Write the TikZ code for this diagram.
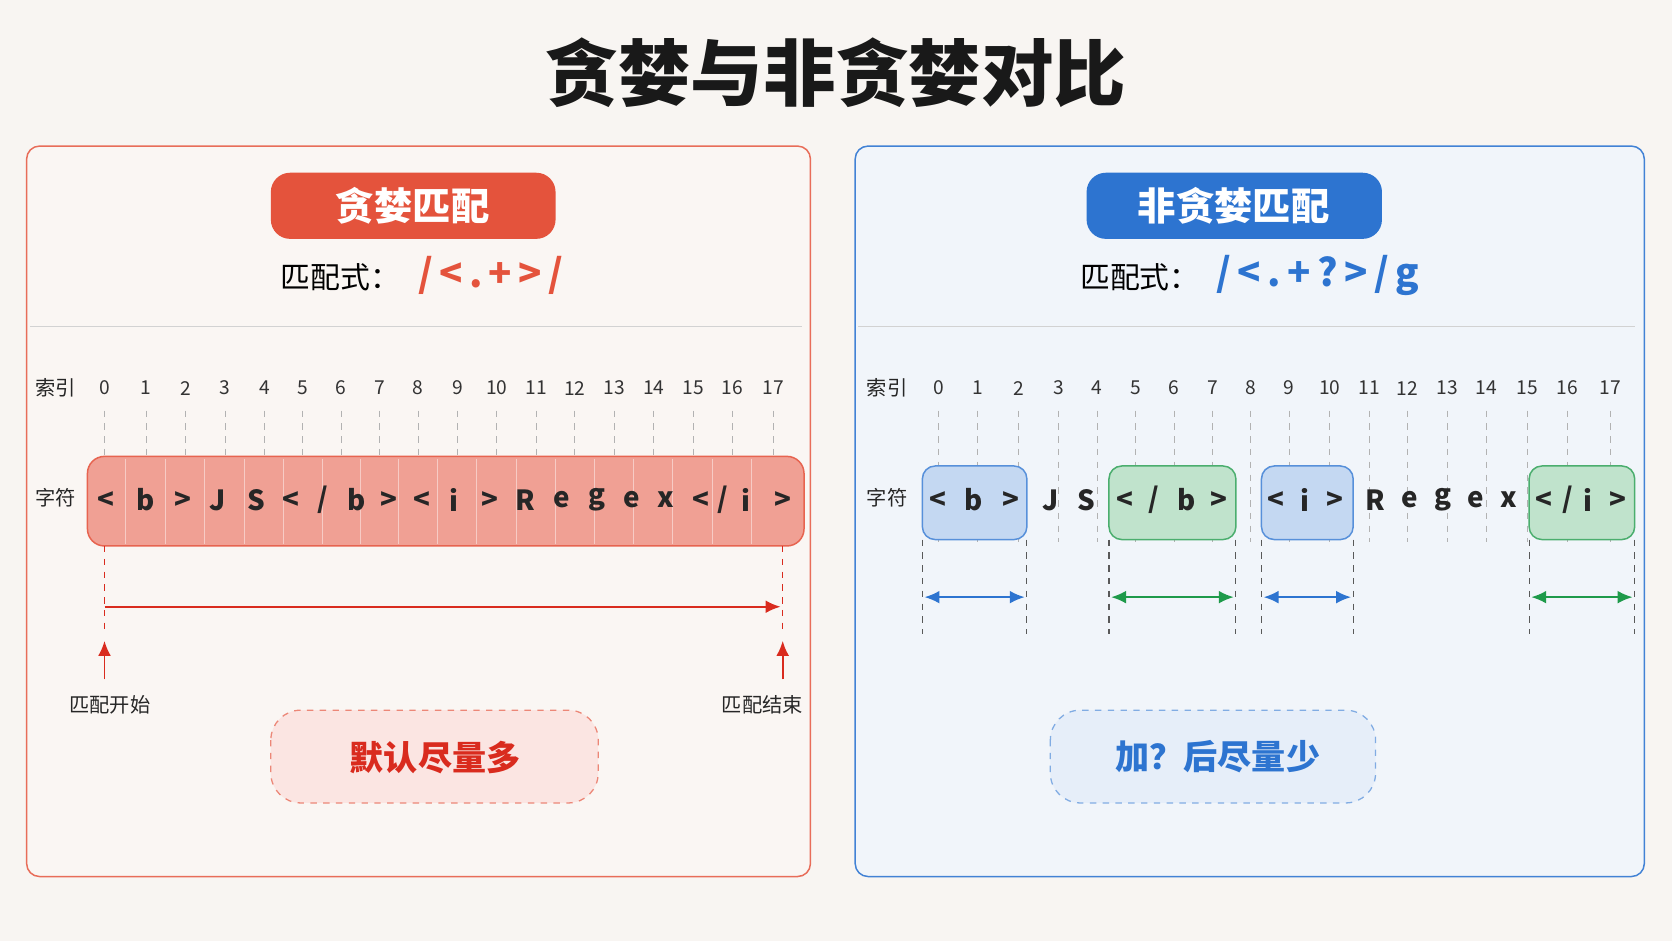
\documentclass[tikz,border=0pt]{standalone}
\usepackage{fontspec}
\setmainfont{Noto Sans CJK SC}
\usetikzlibrary{arrows.meta}
\definecolor{bgc}{HTML}{F8F5F2}
\definecolor{redc}{HTML}{E4533C}
\definecolor{redd}{HTML}{D92B1E}
\definecolor{bluec}{HTML}{2D74D0}
\definecolor{greenc}{HTML}{1E9A4A}
\definecolor{lpan}{HTML}{FAF6F3}
\definecolor{rpan}{HTML}{F1F5FA}
\begin{document}
\begin{tikzpicture}[x=0.5pt,y=-0.5pt,
  idx/.style={font=\fontsize{9}{10}\selectfont,text=black!80},
  ch/.style={font=\fontsize{13}{14}\selectfont\bfseries,text=black!85},
  lab/.style={font=\fontsize{9.5}{11}\selectfont,text=black!85},
  pill/.style={rounded corners=9pt,text=white,font=\fontsize{18}{20}\selectfont\bfseries},
  guide/.style={gray!60,dashed,line width=0.4pt}]
\useasboundingbox[fill=bgc] (0,0) rectangle (1568,882);
\node[font=\fontsize{34}{36}\selectfont\bfseries,text=black!90] (title) at (784,68) {贪婪与非贪婪对比};
% ---------- left panel
\draw[redc!85,fill=lpan,line width=0.7pt,rounded corners=6pt] (25,137) rectangle (760,822);
\fill[redc,rounded corners=9pt] (254,162) rectangle (521,224);
\node[pill] (lh) at (387,193) {贪婪匹配};
\node[anchor=west,font=\fontsize{14}{16}\selectfont] (lf) at (256,260) {匹配式：};
\node[anchor=west,font=\fontsize{18}{18}\selectfont\bfseries,text=redc] (lr) at (385,258) {/\,<\,.\,+\,>\,/};
\draw[gray!35] (28,306) -- (752,306);
\node[lab] (lidx) at (52,364) {索引};
\node[lab] (lchr) at (52,467) {字符};
\foreach \i/\x in {0/98,1/137,2/174,3/211,4/248,5/284,6/320,7/356,8/392,9/429,10/466,11/503,12/539,13/576,14/613,15/650,16/687,17/725}{
  \node[idx] (li\i) at (\x,364) {\i};
  \draw[guide] (\x,385) -- (\x,428);
}
\draw[redc!90,fill=redc!55,rounded corners=8pt,line width=0.7pt] (82,428) rectangle (754,512);
\foreach \x in {118,155,192,229,266,302,338,374,410,447,484,521,557,594,631,668,705}{
  \draw[redc!30,line width=0.4pt] (\x,430) -- (\x,510);
}
\foreach \c/\x in {{<}/99,b/137,{>}/172,J/204,S/240,{<}/273,{/}/303,b/334,{>}/365,{<}/396,i/426,{>}/459,R/493,e/527,g/560,e/592,x/624,{<}/657,{/}/678,i/700,{>}/734}{
  \node[ch] at (\x,469) {\c};
}
\draw[redd,dashed,line width=0.6pt] (98,512) -- (98,595);
\draw[redd,dashed,line width=0.6pt] (734,512) -- (734,595);
\coordinate (ls) at (98,569); \coordinate (le) at (732,569);
\draw[redd,line width=0.9pt,-{Latex[length=7pt,width=6pt]}] (ls) -- (le);
\coordinate (a1) at (98,637); \coordinate (a2) at (98,601);
\coordinate (b1) at (734,637); \coordinate (b2) at (734,601);
\draw[redd,line width=0.9pt,-{Latex[length=7pt,width=6pt]}] (a1) -- (a2);
\draw[redd,line width=0.9pt,-{Latex[length=7pt,width=6pt]}] (b1) -- (b2);
\node[lab] (ms) at (103,661) {匹配开始};
\node[lab] (me) at (715,661) {匹配结束};
\draw[redc!70,dashed,fill=redc!15,rounded corners=14pt,line width=0.6pt] (254,666) rectangle (561,753);
\node[font=\fontsize{16}{18}\selectfont\bfseries,text=redd] (lnote) at (408,710) {默认尽量多};
% ---------- right panel
\draw[bluec!90,fill=rpan,line width=0.7pt,rounded corners=6pt] (802,137) rectangle (1542,822);
\fill[bluec,rounded corners=9pt] (1019,162) rectangle (1296,224);
\node[pill] (rh) at (1157,193) {非贪婪匹配};
\node[anchor=west,font=\fontsize{14}{16}\selectfont] (rf) at (1006,260) {匹配式：};
\node[anchor=west,font=\fontsize{18}{18}\selectfont\bfseries,text=bluec] (rr) at (1134,258) {/\,<\,.\,+\,?\,>\,/\,g};
\draw[gray!35] (805,306) -- (1533,306);
\node[lab] (ridx) at (832,364) {索引};
\node[lab] (rchr) at (832,467) {字符};
\foreach \i/\x in {0/880,1/917,2/955,3/993,4/1029,5/1065,6/1101,7/1137,8/1173,9/1209,10/1247,11/1284,12/1320,13/1357,14/1394,15/1432,16/1470,17/1510}{
  \node[idx] (ri\i) at (\x,364) {\i};
  \draw[guide] (\x,385) -- (\x,508);
}
\foreach \a/\b/\c in {865/963/bluec,1040/1159/greenc,1183/1269/bluec,1434/1533/greenc}{
  \draw[\c!80,fill=\c!28,rounded corners=6pt,line width=0.7pt] (\a,437) rectangle (\b,506);
  \draw[gray!70!black,dashed,line width=0.5pt] (\a,506) -- (\a,595);
  \draw[gray!70!black,dashed,line width=0.5pt] (\b,506) -- (\b,595);
  \draw[\c,line width=0.9pt,{Latex[length=7pt,width=6pt]}-{Latex[length=7pt,width=6pt]}] (\a+2,560) -- (\b-2,560);
}
\foreach \c/\x in {{<}/880,b/913,{>}/948,J/985,S/1019,{<}/1055,{/}/1082,b/1113,{>}/1143,{<}/1197,i/1224,{>}/1252,R/1290,e/1322,g/1353,e/1384,x/1415,{<}/1448,{/}/1470,i/1489,{>}/1517}{
  \node[ch] at (\x,469) {\c};
}
\draw[bluec!60,dashed,fill=bluec!12,rounded corners=14pt,line width=0.6pt] (985,666) rectangle (1290,753);
\node[font=\fontsize{16}{18}\selectfont\bfseries,text=bluec] (rnote) at (1142,710) {加？后尽量少};
\end{tikzpicture}
\end{document}
